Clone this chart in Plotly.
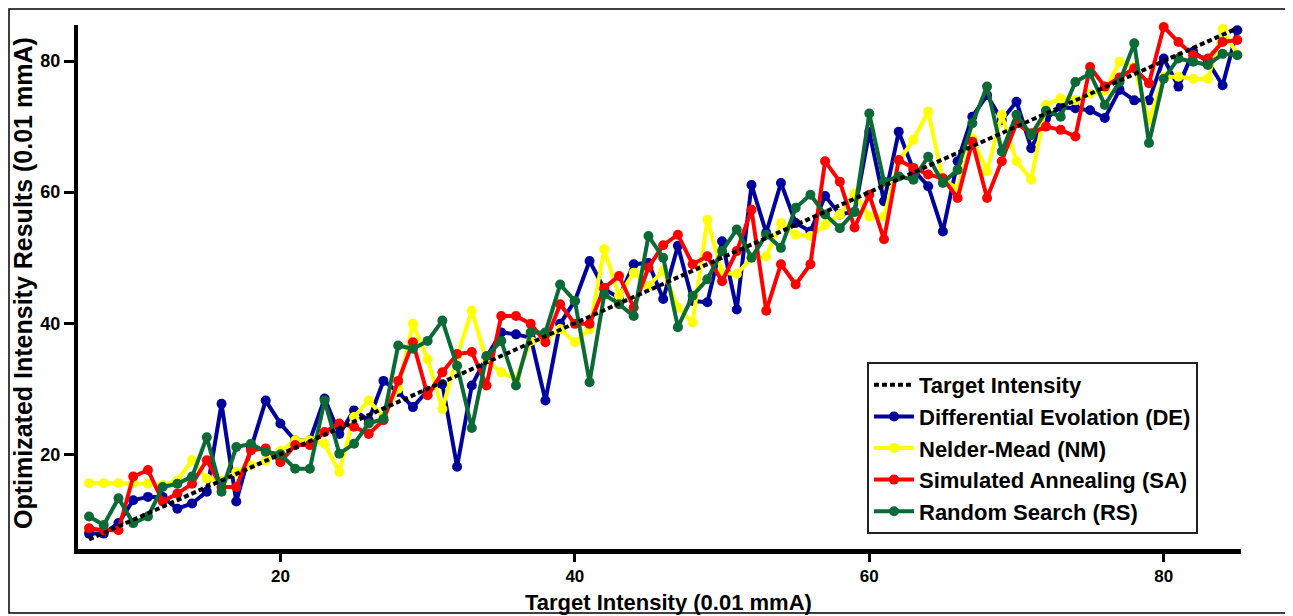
import plotly.graph_objects as go

x_vals = list(range(7, 86))

target = [float(v) for v in x_vals]

de = [7.9, 7.9, 9.5, 13.0, 13.5, 13.5, 11.7, 12.5, 14.3, 27.7,
      12.8, 20.9, 28.2, 24.7, 22.1, 22.1, 28.5, 23.1, 26.7, 25.2,
      31.2, 29.5, 27.2, 29.7, 30.7, 18.1, 30.5, 34.8, 38.6, 38.3,
      37.8, 28.2, 39.9, 43.4, 49.5, 45.2, 43.9, 49.0, 49.2, 43.7,
      51.8, 43.4, 43.2, 52.5, 42.1, 61.1, 53.8, 61.4, 55.3, 54.0,
      59.4, 56.6, 57.0, 69.2, 58.6, 69.2, 63.4, 60.9, 54.0, 64.7,
      71.5, 74.8, 71.0, 73.8, 66.7, 71.2, 73.0, 72.8, 72.5, 71.3,
      75.6, 74.0, 74.0, 80.4, 76.1, 81.4, 79.9, 76.3, 84.7]

nm = [15.6, 15.6, 15.6, 15.6, 15.5, 15.3, 16.0, 19.1, 16.3, 16.0,
      17.3, 18.3, 19.0, 20.5, 22.1, 22.1, 21.6, 17.3, 25.7, 28.2,
      25.7, 30.0, 39.9, 34.5, 26.9, 35.0, 41.9, 34.3, 32.5, 31.5,
      37.3, 37.5, 39.1, 37.1, 39.1, 51.3, 44.2, 47.7, 45.7, 48.0,
      42.4, 40.1, 55.8, 47.7, 47.5, 50.0, 50.2, 55.3, 53.5, 53.3,
      55.0, 56.6, 59.8, 56.3, 56.3, 64.7, 68.0, 72.3, 61.9, 60.6,
      68.2, 63.2, 71.8, 64.7, 61.9, 73.3, 74.3, 74.0, 75.0, 75.5,
      79.9, 79.1, 71.0, 77.6, 77.6, 77.3, 77.3, 84.9, 81.0]

sa = [8.7, 8.4, 8.4, 16.6, 17.6, 12.8, 14.0, 15.5, 19.1, 15.0,
      15.0, 20.6, 20.9, 18.8, 21.4, 21.4, 23.4, 24.7, 24.2, 23.1,
      25.2, 31.2, 37.1, 29.0, 32.5, 35.3, 35.6, 30.5, 41.1, 41.1,
      39.9, 37.1, 42.9, 39.9, 39.9, 45.4, 47.2, 42.4, 48.5, 51.9,
      53.5, 49.0, 50.2, 46.4, 51.0, 57.3, 41.9, 49.0, 45.9, 49.0,
      64.7, 61.6, 54.6, 59.6, 52.8, 64.9, 63.7, 62.7, 62.1, 59.1,
      67.7, 59.1, 64.7, 70.5, 69.0, 70.0, 69.5, 68.5, 79.1, 76.1,
      77.5, 78.9, 76.6, 85.2, 82.9, 80.9, 80.4, 82.9, 83.2]

rs = [10.5, 9.2, 13.3, 9.5, 10.5, 15.0, 15.5, 16.6, 22.6, 14.3,
      21.1, 21.6, 20.4, 20.0, 17.8, 17.8, 28.2, 20.1, 21.6, 24.7,
      25.4, 36.6, 36.1, 37.3, 40.4, 33.5, 24.0, 35.0, 37.3, 30.5,
      38.6, 38.6, 45.9, 43.4, 31.0, 44.4, 42.9, 41.1, 53.3, 50.0,
      39.4, 44.2, 46.7, 51.0, 54.3, 50.0, 53.5, 51.5, 57.6, 59.6,
      56.6, 54.5, 57.0, 72.0, 61.6, 62.4, 61.9, 65.4, 61.4, 63.4,
      70.5, 76.1, 66.2, 71.8, 68.7, 72.4, 71.5, 76.8, 78.1, 73.3,
      76.8, 82.7, 67.5, 77.3, 80.4, 79.9, 79.4, 81.1, 80.9]

x_ticks = [20, 40, 60, 80]
y_ticks = [20, 40, 60, 80]
x_title = "Target Intensity (0.01 mmA)"
y_title = "Optimizated Intensity Results (0.01 mmA)"

series = [
    ("Differential Evolation (DE)", de, "#00009c"),
    ("Nelder-Mead (NM)", nm, "#ffff00"),
    ("Simulated Annealing (SA)", sa, "#ff0000"),
    ("Random Search (RS)", rs, "#0b6a35"),
]

FONT = "Liberation Sans, Arial, sans-serif"

# plot area in figure pixels (page body adds ~8px offset)
L, T, R, B = 70, 17, 1233, 541
PW, PH = R - L, B - T

fig = go.Figure()
for i, (name, vals, col) in enumerate(series):
    fig.add_trace(go.Scatter(
        x=x_vals, y=vals, name=name, mode="lines+markers",
        line=dict(color=col, width=4),
        marker=dict(color=col, size=10),
        cliponaxis=False, legendrank=i + 2,
    ))

fig.add_trace(go.Scatter(
    x=x_vals, y=target, name="Target Intensity", mode="lines",
    line=dict(color="black", width=4, dash="5px,3px"),
    cliponaxis=False, legendrank=1,
))

fig.update_layout(
    width=1293, height=616,
    margin=dict(l=L, r=1293 - R, t=T, b=616 - B),
    paper_bgcolor="white", plot_bgcolor="white",
    font=dict(family=FONT, color="black", size=18, weight="bold"),
    showlegend=True,
    legend=dict(
        x=(859 - L) / PW, y=(B - 354) / PH, xanchor="left", yanchor="top",
        bgcolor="white", bordercolor="#222", borderwidth=2,
        font=dict(family=FONT, size=22, color="black", weight="bold"),
        tracegroupgap=0, itemwidth=40,
    ),
    xaxis=dict(
        range=[6.25, 85.25], tickvals=x_ticks, showgrid=False, zeroline=False,
        showline=True, linecolor="black", linewidth=5, mirror=False,
        ticks="outside", ticklen=8, tickwidth=3, tickcolor="black",
        tickfont=dict(family=FONT, size=17, weight="bold"),
    ),
    yaxis=dict(
        range=[5.55, 85.5], tickvals=y_ticks, showgrid=False, zeroline=False,
        showline=True, linecolor="black", linewidth=4, mirror=False,
        ticks="outside", ticklen=10, tickwidth=3, tickcolor="black",
        tickfont=dict(family=FONT, size=18, weight="bold"),
    ),
    annotations=[
        dict(text=x_title, xref="paper", yref="paper",
             x=(660 - L) / PW, y=(B - 594) / PH, xanchor="center", yanchor="middle",
             showarrow=False, font=dict(family=FONT, size=22, weight="bold")),
        dict(text=y_title, xref="paper", yref="paper", textangle=-90,
             x=(15 - L) / PW, y=(B - 275) / PH, xanchor="center", yanchor="middle",
             showarrow=False, font=dict(family=FONT, size=25, weight="bold")),
    ],
    shapes=[dict(
        type="rect", xref="paper", yref="paper",
        x0=(1 - L) / PW, x1=(1282 - L) / PW,
        y0=(B - 605) / PH, y1=(B - 1) / PH,
        line=dict(color="black", width=1.5), fillcolor="rgba(0,0,0,0)",
        layer="below",
    )],
)

fig.write_html("out.html")
